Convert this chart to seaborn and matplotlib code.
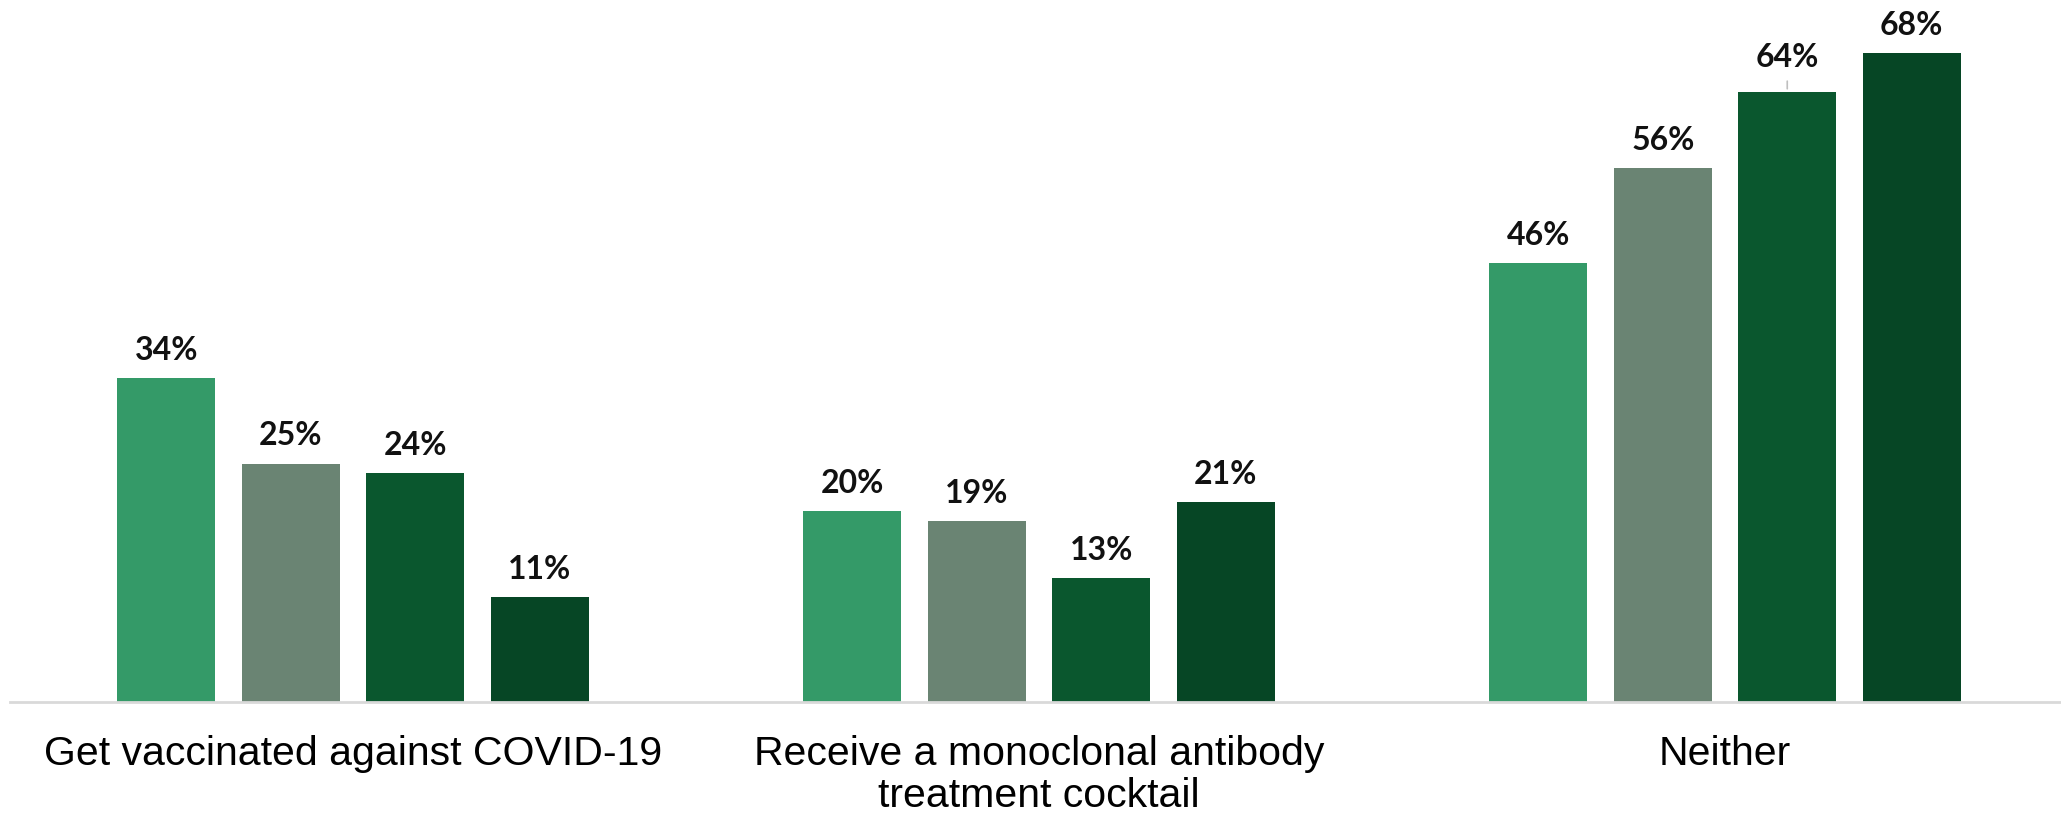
"""
Bar chart: share choosing each option, by group (four shades of green).
"""

import pandas as pd
import seaborn as sns
import matplotlib.pyplot as plt

# data
categories = ['Get vaccinated against COVID-19',
              'Receive a monoclonal antibody\ntreatment cocktail',
              'Neither']
series = ['Group 1', 'Group 2', 'Group 3', 'Group 4']
values = {
    'Group 1': [34, 20, 46],
    'Group 2': [25, 19, 56],
    'Group 3': [24, 13, 64],
    'Group 4': [11, 21, 68],
}
colors = ['#349A68', '#6A8473', '#0A572E', '#064625']


def main():
    rows = []
    for s in series:
        for cat, v in zip(categories, values[s]):
            rows.append({'Category': cat, 'Series': s, 'Value': v})
    df = pd.DataFrame(rows)

    sns.set_style('white')
    fig = plt.figure(figsize=(20.61, 8.15), dpi=100)
    ax = fig.add_axes([10 / 2061, 113 / 815, 2058 / 2061, 702 / 815])

    sns.barplot(data=df, x='Category', y='Value', hue='Series',
                order=categories, hue_order=series, palette=colors,
                width=0.726, gap=0.213, legend=False, ax=ax,
                edgecolor='none', saturation=1)

    ax.set_xlim(-0.5, 2.5)
    ax.set_ylim(0, 73.6)

    # value labels above the bars
    for container, s in zip(ax.containers, series):
        for bar, v in zip(container, values[s]):
            x = bar.get_x() + bar.get_width() / 2
            top = bar.get_height()
            lift = 13
            if v == 64:
                lift = 18
                # short leader line between bar and label
                ax.annotate('', xy=(x, top), xytext=(0, 9.5),
                            textcoords='offset points',
                            arrowprops=dict(arrowstyle='-', color='#bfbfbf', lw=1.2))
            ax.annotate(f'{v}%', xy=(x, top), xytext=(0, lift),
                        textcoords='offset points', ha='center', va='baseline',
                        fontsize=23, fontweight='bold', family='Lato', color='#111111')

    ax.set_xlabel('')
    ax.set_ylabel('')
    ax.set_yticks([])
    ax.tick_params(axis='x', length=0, pad=24)
    for lbl in ax.get_xticklabels():
        lbl.set_fontfamily('Liberation Sans')
        lbl.set_fontsize(29.5)
        lbl.set_color('#000000')
        lbl.set_linespacing(1.12)

    for side in ['top', 'left', 'right']:
        ax.spines[side].set_visible(False)
    ax.spines['bottom'].set_color('#d9d9d9')
    ax.spines['bottom'].set_linewidth(2)

    fig.savefig('out.png', dpi=100)


if __name__ == '__main__':
    main()
